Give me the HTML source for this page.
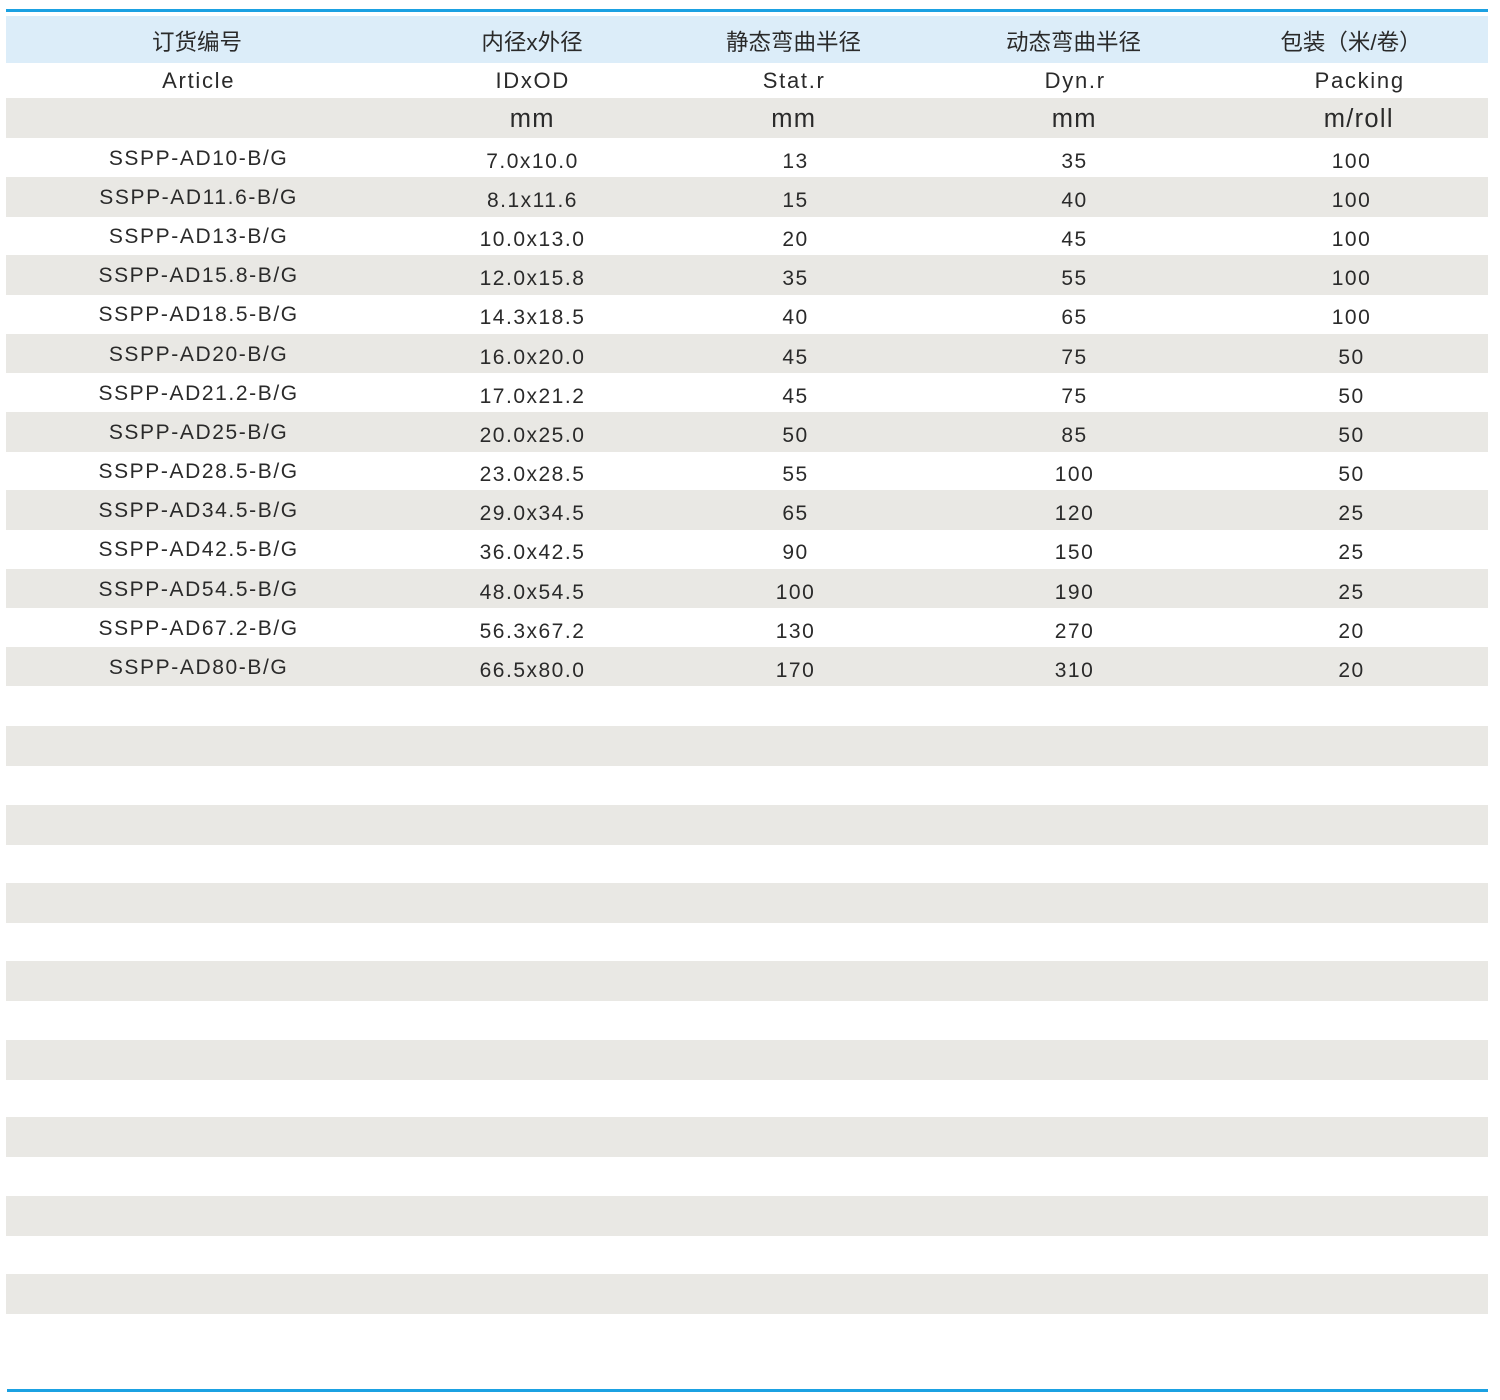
<!DOCTYPE html>
<html>
<head>
<meta charset="utf-8">
<style>
html,body{margin:0;padding:0;background:#fff;}
body{width:1500px;height:1400px;position:relative;overflow:hidden;font-family:"Liberation Sans","Noto Sans CJK SC",sans-serif;color:#2a2a2a;}
.line{position:absolute;left:6px;width:1482px;height:3px;background:#1ba1e2;}
.band{position:absolute;left:6px;width:1482px;}
.g{background:#e9e8e4;height:39.5px;}
.b{background:#dcedf9;}
.t{position:absolute;width:320px;text-align:center;white-space:nowrap;height:40px;line-height:40px;}
.cn{font-size:22.5px;height:47px;line-height:47px;}
.en{font-size:22px;letter-spacing:1.7px;padding-left:1.7px;}
.un{font-size:25.5px;letter-spacing:1.3px;padding-left:1.3px;}
.ar{font-size:21px;letter-spacing:1.6px;padding-left:1.6px;}
.nu{font-size:21px;letter-spacing:1.5px;padding-left:1.5px;}
</style>
</head>
<body>
<div class="line" style="top:8.5px"></div>
<div class="band b" style="top:16px;height:47px"></div>

<div class="band g" style="top:98px;height:40px"></div>
<div class="band g" style="top:177px"></div>
<div class="band g" style="top:255px"></div>
<div class="band g" style="top:333.5px"></div>
<div class="band g" style="top:412px"></div>
<div class="band g" style="top:490px"></div>
<div class="band g" style="top:568.5px"></div>
<div class="band g" style="top:646.5px"></div>
<div class="band g" style="top:726px"></div>
<div class="band g" style="top:805px"></div>
<div class="band g" style="top:883px"></div>
<div class="band g" style="top:961px"></div>
<div class="band g" style="top:1040px"></div>
<div class="band g" style="top:1117px"></div>
<div class="band g" style="top:1196px"></div>
<div class="band g" style="top:1274px"></div>

<div class="line" style="top:1389px;left:7px;width:1481px"></div>

<!-- Chinese header -->
<div class="t cn" style="top:19px;left:37px">订货编号</div>
<div class="t cn" style="top:19px;left:372px">内径x外径</div>
<div class="t cn" style="top:19px;left:633.5px">静态弯曲半径</div>
<div class="t cn" style="top:19px;left:913.5px">动态弯曲半径</div>
<div class="t cn" style="top:19px;left:1191px">包装（米/卷）</div>

<!-- English header -->
<div class="t en" style="top:61px;left:37px">Article</div>
<div class="t en" style="top:61px;left:371px">IDxOD</div>
<div class="t en" style="top:61px;left:632.5px">Stat.r</div>
<div class="t en" style="top:61px;left:913.5px">Dyn.r</div>
<div class="t en" style="top:61px;left:1198px">Packing</div>

<!-- Units -->
<div class="t un" style="top:98.5px;left:371px">mm</div>
<div class="t un" style="top:98.5px;left:632.5px">mm</div>
<div class="t un" style="top:98.5px;left:913px">mm</div>
<div class="t un" style="top:98.5px;left:1197.5px">m/roll</div>

<!-- Data rows -->
<div class="t ar" style="top:139.3px;left:37px">SSPP-AD10-B/G</div>
<div class="t nu" style="top:142.3px;left:371px">7.0x10.0</div>
<div class="t nu" style="top:142.3px;left:634px">13</div>
<div class="t nu" style="top:142.3px;left:913px">35</div>
<div class="t nu" style="top:142.3px;left:1190px">100</div>

<div class="t ar" style="top:178.3px;left:37px">SSPP-AD11.6-B/G</div>
<div class="t nu" style="top:181.3px;left:371px">8.1x11.6</div>
<div class="t nu" style="top:181.3px;left:634px">15</div>
<div class="t nu" style="top:181.3px;left:913px">40</div>
<div class="t nu" style="top:181.3px;left:1190px">100</div>

<div class="t ar" style="top:217.3px;left:37px">SSPP-AD13-B/G</div>
<div class="t nu" style="top:220.3px;left:371px">10.0x13.0</div>
<div class="t nu" style="top:220.3px;left:634px">20</div>
<div class="t nu" style="top:220.3px;left:913px">45</div>
<div class="t nu" style="top:220.3px;left:1190px">100</div>

<div class="t ar" style="top:256.3px;left:37px">SSPP-AD15.8-B/G</div>
<div class="t nu" style="top:259.3px;left:371px">12.0x15.8</div>
<div class="t nu" style="top:259.3px;left:634px">35</div>
<div class="t nu" style="top:259.3px;left:913px">55</div>
<div class="t nu" style="top:259.3px;left:1190px">100</div>

<div class="t ar" style="top:295.3px;left:37px">SSPP-AD18.5-B/G</div>
<div class="t nu" style="top:298.3px;left:371px">14.3x18.5</div>
<div class="t nu" style="top:298.3px;left:634px">40</div>
<div class="t nu" style="top:298.3px;left:913px">65</div>
<div class="t nu" style="top:298.3px;left:1190px">100</div>

<div class="t ar" style="top:334.5px;left:37px">SSPP-AD20-B/G</div>
<div class="t nu" style="top:337.5px;left:371px">16.0x20.0</div>
<div class="t nu" style="top:337.5px;left:634px">45</div>
<div class="t nu" style="top:337.5px;left:913px">75</div>
<div class="t nu" style="top:337.5px;left:1190px">50</div>

<div class="t ar" style="top:373.5px;left:37px">SSPP-AD21.2-B/G</div>
<div class="t nu" style="top:376.5px;left:371px">17.0x21.2</div>
<div class="t nu" style="top:376.5px;left:634px">45</div>
<div class="t nu" style="top:376.5px;left:913px">75</div>
<div class="t nu" style="top:376.5px;left:1190px">50</div>

<div class="t ar" style="top:413px;left:37px">SSPP-AD25-B/G</div>
<div class="t nu" style="top:416px;left:371px">20.0x25.0</div>
<div class="t nu" style="top:416px;left:634px">50</div>
<div class="t nu" style="top:416px;left:913px">85</div>
<div class="t nu" style="top:416px;left:1190px">50</div>

<div class="t ar" style="top:452px;left:37px">SSPP-AD28.5-B/G</div>
<div class="t nu" style="top:455px;left:371px">23.0x28.5</div>
<div class="t nu" style="top:455px;left:634px">55</div>
<div class="t nu" style="top:455px;left:913px">100</div>
<div class="t nu" style="top:455px;left:1190px">50</div>

<div class="t ar" style="top:491px;left:37px">SSPP-AD34.5-B/G</div>
<div class="t nu" style="top:494px;left:371px">29.0x34.5</div>
<div class="t nu" style="top:494px;left:634px">65</div>
<div class="t nu" style="top:494px;left:913px">120</div>
<div class="t nu" style="top:494px;left:1190px">25</div>

<div class="t ar" style="top:530px;left:37px">SSPP-AD42.5-B/G</div>
<div class="t nu" style="top:533px;left:371px">36.0x42.5</div>
<div class="t nu" style="top:533px;left:634px">90</div>
<div class="t nu" style="top:533px;left:913px">150</div>
<div class="t nu" style="top:533px;left:1190px">25</div>

<div class="t ar" style="top:569.5px;left:37px">SSPP-AD54.5-B/G</div>
<div class="t nu" style="top:572.5px;left:371px">48.0x54.5</div>
<div class="t nu" style="top:572.5px;left:634px">100</div>
<div class="t nu" style="top:572.5px;left:913px">190</div>
<div class="t nu" style="top:572.5px;left:1190px">25</div>

<div class="t ar" style="top:608.5px;left:37px">SSPP-AD67.2-B/G</div>
<div class="t nu" style="top:611.5px;left:371px">56.3x67.2</div>
<div class="t nu" style="top:611.5px;left:634px">130</div>
<div class="t nu" style="top:611.5px;left:913px">270</div>
<div class="t nu" style="top:611.5px;left:1190px">20</div>

<div class="t ar" style="top:647.5px;left:37px">SSPP-AD80-B/G</div>
<div class="t nu" style="top:650.5px;left:371px">66.5x80.0</div>
<div class="t nu" style="top:650.5px;left:634px">170</div>
<div class="t nu" style="top:650.5px;left:913px">310</div>
<div class="t nu" style="top:650.5px;left:1190px">20</div>
</body>
</html>
